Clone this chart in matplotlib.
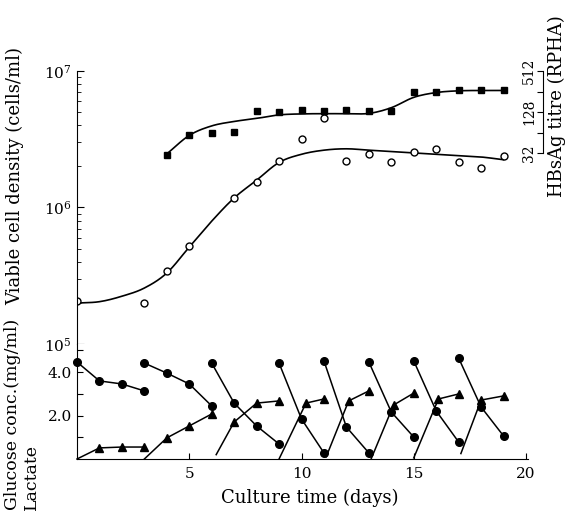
import numpy as np
import matplotlib
matplotlib.use('Agg')
import matplotlib.pyplot as plt

plt.rcParams['font.family'] = ['DejaVu Serif']
plt.rcParams['mathtext.fontset'] = 'dejavuserif'

# viable cell density (open circles)
cell_days = [0, 3, 4, 5, 7, 8, 9, 10, 11, 12, 13, 14, 15, 16, 17, 18, 19]
cell_vals = [2.05e5, 2.0e5, 3.4e5, 5.2e5, 1.17e6, 1.55e6, 2.2e6, 3.2e6, 4.5e6,
             2.2e6, 2.45e6, 2.15e6, 2.55e6, 2.7e6, 2.15e6, 1.95e6, 2.4e6]
# fitted curve (log10 cells/ml)
cell_fit_days = list(range(20))
cell_fit_log = [5.30, 5.31, 5.35, 5.41, 5.52, 5.71, 5.90, 6.07, 6.20, 6.33,
                6.39, 6.42, 6.43, 6.42, 6.41, 6.40, 6.39, 6.38, 6.37, 6.35]

# HBsAg titre (filled squares)
hbs_days = [4, 5, 6, 7, 8, 9, 10, 11, 12, 13, 14, 15, 16, 17, 18, 19]
hbs_vals = [30, 59, 63, 65, 132, 130, 136, 132, 136, 132, 132, 250, 256, 265, 265, 265]
hbs_fit_days = list(range(4, 20))
hbs_fit_vals = [31, 58, 80, 93, 103, 116, 120, 121, 121, 122, 148, 210, 247, 262, 265, 265]

# glucose (filled circles), one list per feeding interval
glc_days = [[0, 1, 2, 3], [3, 4, 5, 6], [6, 7, 8, 9], [9, 10, 11],
            [11, 12, 13], [13, 14, 15], [15, 16, 17], [17, 18, 19]]
glc_vals = [[4.46, 3.59, 3.45, 3.13], [4.41, 3.95, 3.45, 2.44], [4.41, 2.57, 1.52, 0.69],
            [4.41, 1.84, 0.28], [4.51, 1.47, 0.28], [4.46, 2.16, 1.01],
            [4.51, 2.21, 0.78], [4.64, 2.39, 1.06]]
# lactate (filled triangles); first point of each interval has no marker
lac_days = [[0, 1, 2, 3], [3, 4, 5, 6], [6.2, 7, 8, 9], [9, 10.2, 11],
            [11.1, 12.1, 13], [13.1, 14.1, 15], [15, 16.1, 17], [17.1, 18, 19]]
lac_vals = [[0, 0.51, 0.55, 0.55], [0, 0.97, 1.52, 2.07], [0.2, 1.70, 2.57, 2.67],
            [0, 2.57, 2.76], [0.1, 2.67, 3.13], [0, 2.48, 3.03],
            [0.05, 2.76, 2.99], [0.25, 2.71, 2.9]]


def smooth(x, y, n=12):
    # catmull-rom through the read-off knots, for drawing only
    x = np.asarray(x, float); y = np.asarray(y, float)
    xp = np.concatenate([[2 * x[0] - x[1]], x, [2 * x[-1] - x[-2]]])
    yp = np.concatenate([[2 * y[0] - y[1]], y, [2 * y[-1] - y[-2]]])
    xs, ys = [], []
    t = np.linspace(0, 1, n, endpoint=False)
    for i in range(1, len(xp) - 2):
        for arr, out in ((xp, xs), (yp, ys)):
            p0, p1, p2, p3 = arr[i - 1:i + 3]
            out.extend(0.5 * (2 * p1 + (-p0 + p2) * t + (2 * p0 - 5 * p1 + 4 * p2 - p3) * t ** 2
                              + (-p0 + 3 * p1 - 3 * p2 + p3) * t ** 3))
    xs.append(x[-1]); ys.append(y[-1])
    return np.array(xs), np.array(ys)


W, H = 566, 514
fig = plt.figure(figsize=(W / 100, H / 100), dpi=100)
x0, x1 = 77, 543
xmax = (x1 - x0) / 22.45
top_px, mid_px, bot_px = 60, 344, 459

ax = fig.add_axes([x0 / W, 1 - mid_px / H, (x1 - x0) / W, (mid_px - top_px) / H])
axb = fig.add_axes([x0 / W, 1 - bot_px / H, (x1 - x0) / W, (bot_px - mid_px) / H])

# ---- top panel ----
ax.set_yscale('log')
ax.set_ylim(1e5, 10 ** (7 + (71 - top_px) / 136.5))
ax.set_xlim(0, xmax)
for s in ['top', 'right', 'bottom']:
    ax.spines[s].set_visible(False)
ax.spines['left'].set_bounds(1e5, 1e7)
ax.set_xticks([])
ax.set_yticks([1e5, 1e6, 1e7])
ax.set_yticklabels([r'$10^5$', r'$10^6$', r'$10^7$'])
ax.tick_params(axis='y', which='major', direction='in', length=5, labelsize=11, pad=4)
ax.tick_params(axis='y', which='minor', direction='in', length=3)

fx, fy = smooth(cell_fit_days, cell_fit_log)
ax.plot(fx, 10 ** fy, color='k', lw=1.2)
ax.plot(cell_days, cell_vals, 'o', mfc='white', mec='k', ms=5, mew=1.0)
fig.text(15 / W, 1 - 305 / H, 'Viable cell density (cells/ml)', rotation=90,
         ha='center', va='bottom', fontsize=13)

ax2 = ax.twinx()
ax2.set_yscale('log', base=2)
per = 20.5
ytop = 512 * 2 ** ((71 - top_px) / per)
ax2.set_ylim(ytop / 2 ** ((mid_px - top_px) / per), ytop)
for s in ['top', 'left', 'bottom']:
    ax2.spines[s].set_visible(False)
ax2.spines['right'].set_bounds(32, 512)
ax2.set_yticks([32, 64, 128, 256, 512])
ax2.set_yticklabels(['32', '', '128', '', '512'])
ax2.yaxis.set_minor_locator(matplotlib.ticker.NullLocator())
ax2.tick_params(axis='y', direction='in', length=4, labelsize=10, pad=-15, labelrotation=90)
for lb in ax2.get_yticklabels():
    lb.set_va('center')
hx, hy = smooth(hbs_fit_days, np.log2(hbs_fit_vals))
ax2.plot(hx, 2 ** hy, color='k', lw=1.2)
ax2.plot(hbs_days, hbs_vals, 's', color='k', ms=5)
fig.text(557 / W, 1 - 197 / H, 'HBsAg titre (RPHA)', rotation=90, ha='center', va='bottom', fontsize=13)

# ---- bottom panel ----
axb.set_xlim(0, xmax)
axb.set_ylim(0, (bot_px - mid_px) / 21.75)
for s in ['top', 'right']:
    axb.spines[s].set_visible(False)
axb.spines['bottom'].set_bounds(0, 20.1)
axb.set_xticks([5, 10, 15, 20])
axb.set_yticks([1, 2, 3, 4, 5])
axb.set_yticklabels(['', '2.0', '', '4.0', ''])
axb.tick_params(direction='in', length=4, labelsize=11)
axb.tick_params(axis='x', pad=6)

for d, v in zip(glc_days, glc_vals):
    axb.plot(d, v, '-o', color='k', lw=1.1, ms=5.5, clip_on=False)
for d, v in zip(lac_days, lac_vals):
    axb.plot(d, v, '-^', color='k', lw=1.1, ms=5.5, markevery=slice(1, None), clip_on=False)

axb.set_xlabel('Culture time (days)', fontsize=13, labelpad=5)
fig.text(13 / W, 1 - 510 / H, 'Glucose conc.(mg/ml)', rotation=90, ha='center', va='bottom', fontsize=12.5)
fig.text(31 / W, 1 - 510 / H, 'Lactate', rotation=90, ha='center', va='bottom', fontsize=12.5)

fig.savefig('out.png', dpi=100)
